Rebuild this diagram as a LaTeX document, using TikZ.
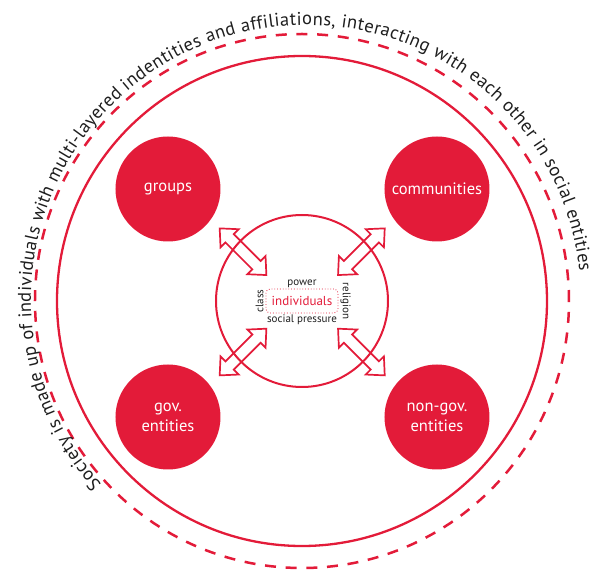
\documentclass[tikz,border=0pt]{standalone}
\usepackage{fontspec}
\setmainfont{PT Sans}
\usetikzlibrary{positioning, shapes.arrows, decorations.text}
\definecolor{socred}{RGB}{227,27,57}
\definecolor{darktext}{RGB}{30,30,30}

\begin{document}
\begin{tikzpicture}[x=1pt, y=1pt, node distance=0pt,
    entity/.style={circle, fill=socred, minimum size=105pt, inner sep=0pt, text=white, align=center, font=\fontsize{16.5}{20}\selectfont},
    ring/.style={circle, draw=socred, line width=2.3pt, inner sep=0pt},
    tagtext/.style={text=darktext, inner sep=1pt, font=\fontsize{11}{11}\selectfont},
    dblarrow/.style={double arrow, draw=socred, line width=1.7pt, minimum height=66pt, inner xsep=0pt, inner ysep=5pt, double arrow head extend=7pt, double arrow tip angle=85}]
    \useasboundingbox (-302,-272) rectangle (288,301);

    % Rings
    \node[ring, dash pattern=on 11pt off 9.7pt, line width=2.5pt, minimum size=534pt] (dashring) at (0,0) {};
    \node[ring, minimum size=490pt] (society) at (0,0) {};
    \node[ring, line width=2pt, minimum size=172pt] (core) at (0,0) {};

    % Nodes
    \node[entity] (groups) at (-134,112) {groups};
    \node[entity] (comms) at (135,112) {communities};
    \node[entity] (gov) at (-134,-116) {gov.\\entities};
    \node[entity] (nongov) at (135,-116) {non-gov.\\entities};

    \node[draw=socred, dotted, line width=0.8pt, rounded corners=4pt, text=socred, inner sep=3pt, minimum width=72pt, minimum height=24pt, font=\fontsize{13}{13}\selectfont] (ind) at (0,0) {individuals};
    \node[tagtext, above=of ind] (power) {power};
    \node[tagtext, below=of ind] (pressure) {social pressure};
    \node[tagtext, rotate=90, anchor=south] (class) at ([xshift=-1pt]ind.west) {class};
    \node[tagtext, rotate=-90, anchor=south] (religion) at ([xshift=1pt]ind.east) {religion};

    % Arrows
    \path (core.center) -- (groups.center) node[dblarrow, rotate=-45, pos=0.44] {};
    \path (core.center) -- (comms.center) node[dblarrow, rotate=45, pos=0.44] {};
    \path (core.center) -- (gov.center) node[dblarrow, rotate=45, pos=0.44] {};
    \path (core.center) -- (nongov.center) node[dblarrow, rotate=-45, pos=0.44] {};

    % Text round the outside
    \path[decorate, decoration={text along path, text align=fit to path,
        text={|\fontsize{18.5}{18.5}\selectfont\color{darktext}|Society is made up of individuals with multi-layered indentities and affiliations, interacting with each other in social entities}}]
        (4,1) ++(222:275) arc[start angle=222, end angle=6, radius=275pt];
\end{tikzpicture}
\end{document}
